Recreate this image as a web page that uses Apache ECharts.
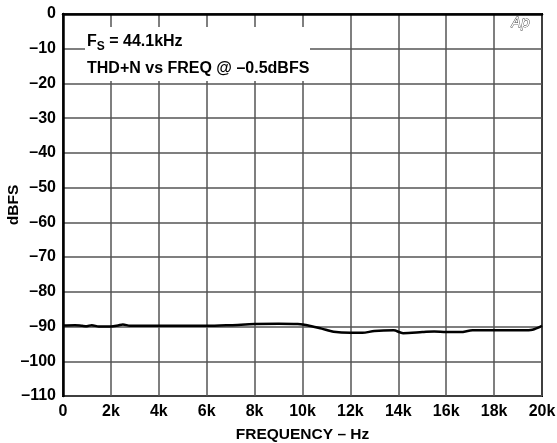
<!DOCTYPE html>
<html>
<head>
<meta charset="utf-8">
<script src="https://cdn.jsdelivr.net/npm/echarts@6/dist/echarts.min.js"></script>
<style>
  html, body { margin: 0; padding: 0; background: #fff; }
  #chart { width: 557px; height: 443px; }
</style>
</head>
<body>
<div id="chart"></div>
<script>
// THD+N vs frequency
const freqHz = [0, 500, 800, 1000, 1200, 1500, 2000, 2300, 2500, 2800, 3000, 4000, 6000, 7000, 8000, 9000, 9800,
  10200, 10800, 11300, 12000, 12500, 13000, 13800, 14200, 15000, 15500, 16000, 16600, 17100, 18000, 19200, 19600, 20000]
const thdDb = [-89.7, -89.6, -89.8, -89.9, -89.6, -90.0, -90.0, -89.7, -89.4, -89.8, -89.8, -89.8, -89.8, -89.6, -89.3, -89.2, -89.3,
  -89.6, -90.6, -91.5, -91.8, -91.8, -91.3, -91.1, -91.9, -91.6, -91.4, -91.6, -91.6, -91.1, -91.1, -91.1, -90.9, -89.8]

const fontBold = { fontFamily: 'Liberation Sans, Arial, sans-serif', fontWeight: 'bold', color: '#000' }

const chart = echarts.init(document.getElementById('chart'))

chart.setOption({
  animation: false,
  grid: {
    left: 63, right: 15, top: 14, bottom: 47,
    outerBoundsMode: 'none', containLabel: false,
    show: true, borderColor: '#000', borderWidth: 2
  },
  xAxis: {
    type: 'value',
    min: 0,
    max: 20000,
    interval: 2000,
    name: 'FREQUENCY – Hz',
    nameLocation: 'middle',
    nameGap: 31,
    nameTextStyle: { ...fontBold, fontSize: 15.5 },
    axisLine: { lineStyle: { color: '#000', width: 2.5 } },
    axisTick: { show: false },
    axisLabel: {
      ...fontBold,
      fontSize: 16,
      margin: 8,
      formatter: v => (v === 0 ? '0' : v / 1000 + 'k')
    },
    splitLine: { lineStyle: { color: '#555', width: 1.5 } }
  },
  yAxis: {
    type: 'value',
    min: -110,
    max: 0,
    interval: 10,
    name: 'dBFS',
    nameLocation: 'middle',
    nameGap: 41,
    nameMoveOverlap: false,
    nameTextStyle: { ...fontBold, fontSize: 15.5 },
    axisLine: { lineStyle: { color: '#000', width: 2.5 } },
    axisTick: { show: false },
    axisLabel: {
      ...fontBold,
      fontSize: 16,
      margin: 7,
      formatter: v => (v === 0 ? '0' : '–' + Math.abs(v))
    },
    splitLine: { lineStyle: { color: '#555', width: 1.5 } }
  },
  series: [{
    type: 'line',
    data: freqHz.map((f, i) => [f, thdDb[i]]),
    showSymbol: false,
    smooth: 0.3,
    lineStyle: { color: '#000', width: 2.5 }
  }],
  graphic: [
    {
      type: 'rect',
      shape: { x: 85, y: 27, width: 225, height: 54 },
      style: { fill: '#fff' },
      z: 10
    },
    {
      type: 'text',
      left: 87,
      top: 34,
      z: 11,
      style: {
        text: '{b|F}{s|S}{b| = 44.1kHz}',
        rich: {
          b: { ...fontBold, fontSize: 16 },
          s: { ...fontBold, fontSize: 12, padding: [9, 0, 0, 0] }
        }
      }
    },
    {
      type: 'text',
      left: 87,
      top: 61,
      z: 11,
      style: { text: 'THD+N vs FREQ @ –0.5dBFS', ...fontBold, fontSize: 16, fill: '#000' }
    },
    {
      type: 'text',
      left: 511,
      top: 16,
      z: 11,
      style: { text: 'Ap', fontFamily: 'DejaVu Sans, sans-serif', fontStyle: 'italic', fontSize: 14, fill: '#fff', stroke: '#333', lineWidth: 0.8 }
    }
  ]
})
</script>
</body>
</html>
